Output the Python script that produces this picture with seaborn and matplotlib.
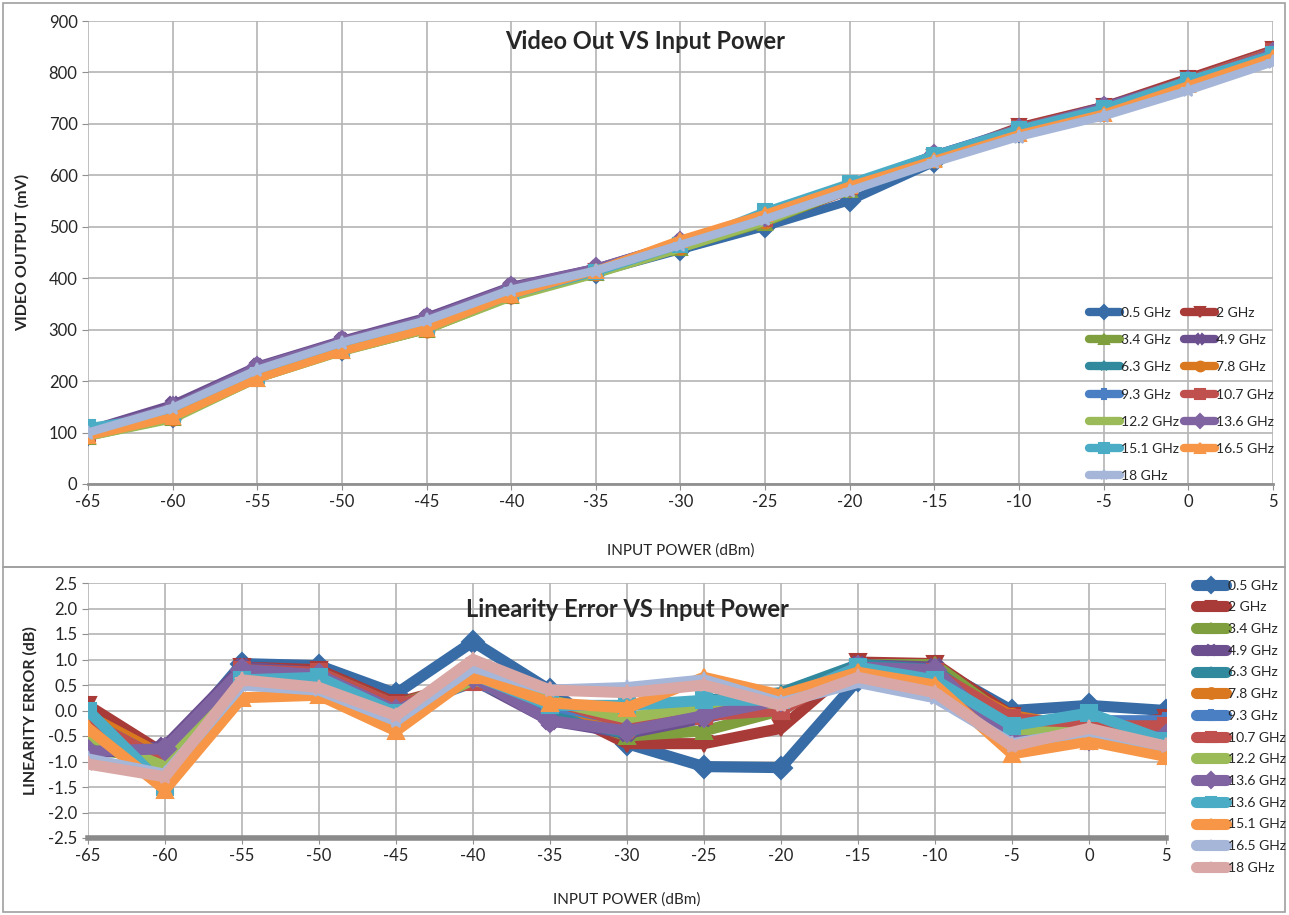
import numpy as np
import pandas as pd
import matplotlib.pyplot as plt
import seaborn as sns
from matplotlib.patches import Rectangle

sns.set_style("white")
plt.rcParams['font.family'] = ['Lato', 'DejaVu Sans']
plt.rcParams['axes.unicode_minus'] = False

power = [-65, -60, -55, -50, -45, -40, -35, -30, -25, -20, -15, -10, -5, 0, 5]

top_labels = ["0.5 GHz", "2 GHz", "3.4 GHz", "4.9 GHz", "6.3 GHz", "7.8 GHz", "9.3 GHz",
              "10.7 GHz", "12.2 GHz", "13.6 GHz", "15.1 GHz", "16.5 GHz", "18 GHz"]
top_vals = [
    [95, 130, 210, 260, 305, 370, 410, 455, 500, 550, 625, 685, 725, 780, 840],
    [100, 135, 215, 265, 310, 375, 415, 460, 510, 570, 635, 695, 735, 790, 845],
    [92, 128, 205, 258, 300, 365, 410, 458, 508, 572, 632, 690, 730, 785, 842],
    [105, 155, 230, 280, 325, 385, 420, 470, 520, 580, 640, 690, 735, 785, 840],
    [95, 130, 210, 262, 305, 372, 412, 462, 512, 575, 635, 690, 730, 785, 840],
    [93, 128, 207, 258, 300, 365, 410, 460, 512, 575, 630, 688, 728, 782, 838],
    [100, 140, 218, 268, 312, 378, 418, 468, 520, 580, 640, 692, 732, 786, 842],
    [98, 135, 213, 263, 308, 373, 415, 465, 515, 577, 636, 692, 732, 786, 842],
    [92, 126, 205, 257, 300, 363, 408, 458, 510, 573, 632, 688, 728, 782, 838],
    [103, 150, 228, 278, 322, 383, 420, 470, 520, 580, 640, 690, 733, 783, 838],
    [110, 135, 210, 262, 303, 368, 412, 465, 530, 585, 640, 690, 730, 785, 835],
    [93, 130, 205, 258, 302, 368, 415, 475, 525, 580, 630, 680, 720, 775, 830],
    [100, 148, 222, 275, 318, 378, 415, 465, 515, 570, 625, 675, 715, 765, 820],
]
top_colors = ["#386ca6", "#a83a37", "#7f9f3f", "#6b4f8f", "#31899e", "#d9781f", "#4a7fc4",
              "#c0504d", "#9bbb59", "#8064a2", "#4bacc6", "#f79646", "#a5b6d8"]
top_markers = ["D", "v", "^", "X", "*", "o", "P", "s", "_", "D", "s", "^", "*"]

bot_labels = ["0.5 GHz", "2 GHz", "3.4 GHz", "4.9 GHz", "6.3 GHz", "7.8 GHz", "9.3 GHz",
              "10.7 GHz", "12.2 GHz", "13.6 GHz", "13.6 GHz", "15.1 GHz", "16.5 GHz", "18 GHz"]
bot_vals = [
    [-0.6, -0.85, 0.92, 0.88, 0.33, 1.35, 0.4, -0.65, -1.1, -1.12, 0.6, 0.85, 0.0, 0.1, 0.0],
    [0.1, -0.85, 0.85, 0.8, 0.15, 0.55, 0.1, -0.65, -0.65, -0.35, 0.95, 0.92, -0.1, -0.4, -0.15],
    [-0.75, -0.95, 0.8, 0.75, 0.1, 0.6, 0.0, -0.5, -0.4, 0.0, 0.9, 0.9, -0.2, -0.45, -0.4],
    [-0.85, -0.7, 0.85, 0.75, 0.05, 0.6, -0.2, -0.45, -0.15, 0.2, 0.9, 0.85, -0.7, -0.6, -0.25],
    [-0.3, -0.95, 0.8, 0.72, 0.05, 0.6, -0.1, -0.45, 0.2, 0.35, 0.9, 0.8, -0.3, -0.3, -0.45],
    [-0.1, -0.9, 0.7, 0.72, 0.05, 0.6, 0.2, -0.4, 0.05, 0.15, 0.85, 0.7, -0.1, -0.35, -0.35],
    [-0.2, -1.0, 0.75, 0.7, 0.0, 0.55, 0.1, -0.2, 0.0, 0.1, 0.8, 0.6, -0.2, -0.2, -0.2],
    [-0.2, -1.0, 0.8, 0.75, 0.1, 0.55, 0.2, -0.25, -0.1, 0.0, 0.85, 0.75, -0.15, -0.3, -0.3],
    [-0.5, -1.1, 0.7, 0.65, -0.1, 0.6, 0.2, -0.15, 0.1, 0.15, 0.8, 0.6, -0.4, -0.45, -0.6],
    [-0.8, -0.75, 0.8, 0.7, 0.0, 0.65, -0.2, -0.4, -0.1, 0.2, 0.85, 0.8, -0.6, -0.55, -0.5],
    [0.0, -1.5, 0.6, 0.65, -0.05, 0.7, 0.1, 0.1, 0.2, 0.2, 0.85, 0.6, -0.3, -0.05, -0.6],
    [-0.35, -1.55, 0.25, 0.3, -0.4, 0.7, 0.15, 0.05, 0.65, 0.3, 0.75, 0.5, -0.85, -0.6, -0.9],
    [-0.95, -1.25, 0.5, 0.4, -0.2, 0.85, 0.4, 0.45, 0.6, 0.15, 0.55, 0.25, -0.65, -0.4, -0.7],
    [-1.05, -1.3, 0.6, 0.45, -0.1, 1.0, 0.4, 0.35, 0.5, 0.1, 0.65, 0.35, -0.7, -0.35, -0.7],
]
bot_colors = ["#386ca6", "#a83a37", "#7f9f3f", "#6b4f8f", "#31899e", "#d9781f", "#4a7fc4",
              "#c0504d", "#9bbb59", "#8064a2", "#4bacc6", "#f79646", "#a5b6d8", "#d9a8a6"]
bot_markers = ["D", "v", "^", "X", "*", "o", "P", "s", "_", "D", "s", "^", "*", "*"]

fig = plt.figure(figsize=(12.89, 9.15), dpi=100)
# chart frames
fig.patches.append(Rectangle((3/1289, 1-567/915), 1282/1289, 564/915, transform=fig.transFigure,
                             fill=False, edgecolor="#a0a0a0", lw=1.2))
fig.patches.append(Rectangle((3/1289, 3/915), 1282/1289, (912-567)/915, transform=fig.transFigure,
                             fill=False, edgecolor="#a0a0a0", lw=1.2))

ax1 = fig.add_axes([88/1289, 1-484/915, (1273-88)/1289, (484-21)/915])
ax2 = fig.add_axes([88/1289, 1-838/915, (1166-88)/1289, (838-583)/915])


def draw(ax, labels, vals, colors, markers, lw, ms):
    for lab, v, c, m in zip(labels, vals, colors, markers):
        df = pd.DataFrame({"x": power, "y": v})
        sns.lineplot(data=df, x="x", y="y", ax=ax, color=c, lw=lw, marker=m, ms=ms,
                     mec=c, mew=1.5 if m != "_" else 3, label=lab, legend=False)


draw(ax1, top_labels, top_vals, top_colors, top_markers, 6, 10)
draw(ax2, bot_labels, bot_vals, bot_colors, bot_markers, 8, 11)

for ax in (ax1, ax2):
    ax.set_xlim(-65, 5)
    ax.set_xticks(range(-65, 6, 5))
    ax.grid(True, color="#b4b4b4", lw=1.2)
    ax.set_axisbelow(True)
    for s in ("top", "right", "left"):
        ax.spines[s].set_visible(False)
    ax.tick_params(axis="both", labelsize=12, length=4, color="#909090", direction="out",
                   bottom=True, left=True)

ax1.set_ylim(0, 900)
ax1.set_yticks(range(0, 901, 100))
ax1.spines["bottom"].set_color("#909090")
ax1.spines["bottom"].set_linewidth(2)
ax1.set_xlabel("INPUT POWER (dBm)", fontsize=11, labelpad=24)
ax1.set_ylabel("VIDEO OUTPUT (mV)", fontsize=11.5, fontweight="bold", labelpad=14)
ax1.text(0.47, 0.955, "Video Out VS Input Power", transform=ax1.transAxes, ha="center",
         va="center", fontsize=17, fontweight="bold")

ax2.set_ylim(-2.5, 2.5)
ax2.set_yticks(np.arange(-2.5, 2.51, 0.5))
ax2.set_yticklabels([f"{t:.1f}" for t in np.arange(-2.5, 2.51, 0.5)])
ax2.spines["bottom"].set_color("#8a8a8a")
ax2.spines["bottom"].set_linewidth(4)
ax2.set_xlabel("INPUT POWER (dBm)", fontsize=11, labelpad=20)
ax2.set_ylabel("LINEARITY ERROR (dB)", fontsize=11.5, fontweight="bold", labelpad=8)
ax2.text(0.5, 0.895, "Linearity Error VS Input Power", transform=ax2.transAxes, ha="center",
         va="center", fontsize=17, fontweight="bold")

# row-wise order for the two-column legend
h1, l1 = ax1.get_legend_handles_labels()
order = list(range(0, len(h1), 2)) + list(range(1, len(h1), 2))
ax1.legend([h1[i] for i in order], [l1[i] for i in order], ncol=2, loc="upper left",
           bbox_to_anchor=(0.84, 0.395), frameon=False, fontsize=10, handlelength=2.2,
           handletextpad=0.1, columnspacing=0.4, labelspacing=1.1, markerscale=0.7,
           borderaxespad=0)

h2, l2 = ax2.get_legend_handles_labels()
fig.legend(h2, l2, ncol=1, loc="upper left", bbox_to_anchor=(1190/1289, 1-574/915), frameon=False,
           fontsize=10, handlelength=2.2, handletextpad=0.1, labelspacing=0.7,
           markerscale=0.7, borderaxespad=0)

fig.savefig("out.png", dpi=100)
